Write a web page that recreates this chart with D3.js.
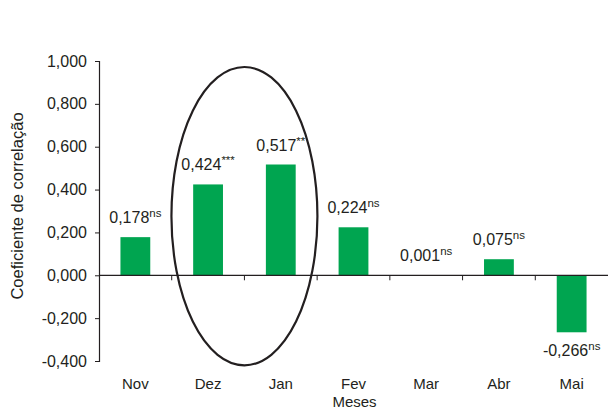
<!DOCTYPE html>
<html>
<head>
<meta charset="utf-8">
<script src="https://cdn.jsdelivr.net/npm/d3@7"></script>
<style>
  body { margin: 0; background: #fff; }
  text { font-family: "Liberation Sans", Arial, sans-serif; fill: #231f20; }
</style>
</head>
<body>
<script>
'use strict';

const width = 608;
const height = 414;

// data
const months = ['Nov', 'Dez', 'Jan', 'Fev', 'Mar', 'Abr', 'Mai'];
const values = [0.178, 0.424, 0.517, 0.224, 0.001, 0.075, -0.266];
const signif = ['ns', '***', '**', 'ns', 'ns', 'ns', 'ns'];
const yTicks = [-0.4, -0.2, 0, 0.2, 0.4, 0.6, 0.8, 1.0];

const padLeft = 99, padRight = 608, padTop = 61, padBottom = 361;

let svg = d3.select('body').append('svg').attr('width', width).attr('height', height);

let xScale = d3.scaleBand().domain(months).range([padLeft, padRight]).paddingInner(0.59).paddingOuter(0.295);
let band = d3.scaleBand().domain(months).range([padLeft, padRight]);
let yScale = d3.scaleLinear().domain([-0.4, 1.0]).range([padBottom, padTop]);

let fmt = v => d3.format('.3f')(v).replace('.', ',').replace('−', '-');

// bars
svg.append('g')
    .attr('fill', '#00a550')
    .selectAll('rect')
    .data(values)
    .join('rect')
    .attr('x', (d, i) => xScale(months[i]))
    .attr('width', xScale.bandwidth())
    .attr('y', d => yScale(Math.max(0, d)))
    .attr('height', d => Math.abs(yScale(d) - yScale(0)));

// y axis
const yAxis = d3.axisLeft(yScale)
    .tickValues(yTicks)
    .tickSize(4)
    .tickPadding(8)
    .tickFormat(fmt);

let gy = svg.append('g')
    .attr('class', 'y axis')
    .attr('transform', 'translate(' + padLeft + ',0)')
    .call(yAxis);
gy.select('.domain').attr('stroke', '#231f20').attr('stroke-width', 1.2);
gy.selectAll('line').attr('stroke', '#231f20');
gy.selectAll('text').style('font-size', '16px').style('fill', '#231f20')
    .style('font-family', '"Liberation Sans", Arial, sans-serif');

// x axis line at zero with ticks at band edges
let gx = svg.append('g').attr('class', 'x axis');
gx.append('line')
    .attr('x1', padLeft).attr('x2', padRight)
    .attr('y1', yScale(0)).attr('y2', yScale(0))
    .attr('stroke', '#231f20').attr('stroke-width', 1.2);
gx.selectAll('line.tk')
    .data(months.slice(1))
    .join('line')
    .attr('class', 'tk')
    .attr('x1', d => band(d)).attr('x2', d => band(d))
    .attr('y1', yScale(0)).attr('y2', yScale(0) + 5)
    .attr('stroke', '#231f20');

// month labels
svg.append('g')
    .selectAll('text')
    .data(months)
    .join('text')
    .attr('x', d => band(d) + band.bandwidth() / 2)
    .attr('y', 389)
    .attr('text-anchor', 'middle')
    .style('font-size', '15px')
    .text(d => d);

svg.append('text')
    .attr('x', (padLeft + padRight) / 2 + 1)
    .attr('y', 407)
    .attr('text-anchor', 'middle')
    .style('font-size', '15px')
    .text('Meses');

svg.append('text')
    .attr('transform', 'translate(23,' + 206 + ') rotate(-90)')
    .attr('text-anchor', 'middle')
    .style('font-size', '16.5px')
    .text('Coeficiente de correlação');

// value labels with significance superscripts
let labels = svg.append('g')
    .selectAll('text')
    .data(values)
    .join('text')
    .attr('x', (d, i) => band(months[i]) + band.bandwidth() / 2)
    .attr('y', d => d >= 0 ? yScale(d) - 14 : yScale(d) + 24)
    .attr('text-anchor', 'middle')
    .style('font-size', '16px');
labels.append('tspan').text(d => fmt(d));
labels.append('tspan')
    .attr('dy', -6)
    .style('font-size', '11.5px')
    .text((d, i) => signif[i]);

// ellipse around Dez and Jan
svg.append('ellipse')
    .attr('cx', band('Jan'))
    .attr('cy', (yScale(0.972) + yScale(-0.42)) / 2)
    .attr('rx', 73)
    .attr('ry', (yScale(-0.42) - yScale(0.972)) / 2)
    .attr('fill', 'none')
    .attr('stroke', '#231f20')
    .attr('stroke-width', 2.2);
</script>
</body>
</html>
